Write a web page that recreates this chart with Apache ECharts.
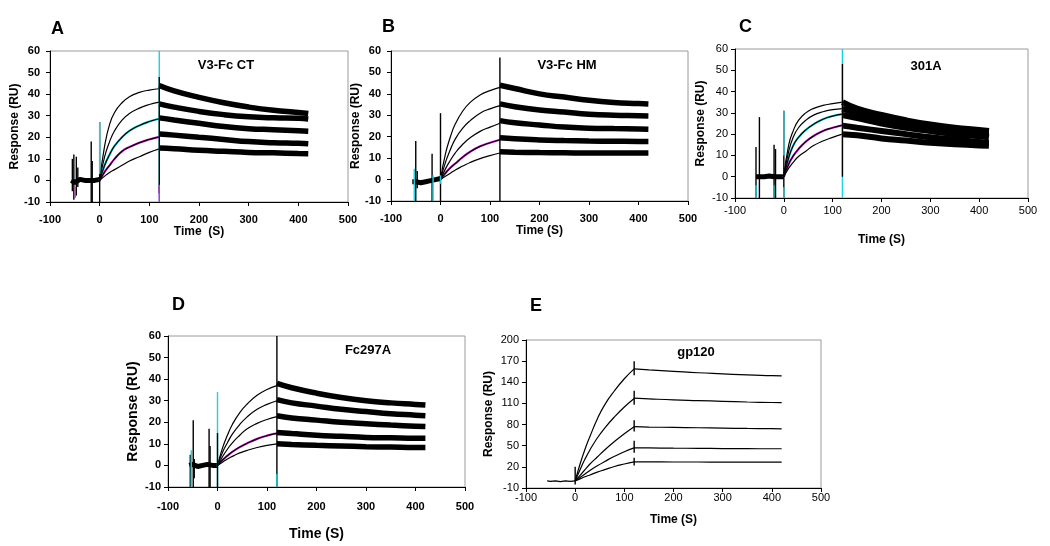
<!doctype html>
<html>
<head>
    <meta charset="utf-8">
    <title>SPR sensorgrams</title>
    <script src="https://cdn.jsdelivr.net/npm/echarts@6/dist/echarts.min.js"></script>
    <style>
        html, body { margin: 0; padding: 0; background: #fff; }
        #main { width: 1050px; height: 546px; }
    </style>
</head>
<body>
<div id="main"></div>
<script>
    // time points (s)
    var assocT = [0, 10, 20, 30, 45, 60, 80, 100, 120];
    var dissT = [120, 150, 200, 250, 300, 350, 400, 420];
    var baseT = [-57, -50, -40, -30, -20, -10, 0];

    // A  V3-Fc CT
    var assocA = [
        [0, 16, 26, 31.5, 36, 38.8, 40.8, 41.9, 42.5],
        [0, 11, 18, 23, 28, 31, 33.5, 35.2, 36.3],
        [0, 7, 12, 16, 20, 23, 25.5, 27.3, 28.6],
        [0, 4, 7, 10, 13.5, 15.5, 17.5, 19, 20.2],
        [0, 2, 3.7, 5, 7, 9, 11, 13, 14.6]
    ];
    var dissA = [
        [44, 41.5, 38.5, 36, 34, 32.5, 31.5, 31],
        [35.5, 34, 32, 30.5, 29.5, 29, 28.8, 28.5],
        [29, 28, 26.5, 25, 24, 23.5, 23, 22.8],
        [21.5, 21, 20, 19, 18, 17.5, 17.2, 17],
        [15, 14.7, 14, 13.5, 13, 12.8, 12.5, 12.4]
    ];
    var baseA = [0, -1, 0.5, 0, 0, 0, 0.5];
    // [t, low, high, colour 0 black / 1 cyan / 2 magenta]
    var spikesA = [[-55, -5, 10, 0], [-52, -9, 12, 0], [-47, -7, 11, 0], [-44, -3, 6, 0],
        [-49, -8, -3, 2], [-17, -10, 18, 0], [-15, -10, 9, 0], [0, -10, 27, 0], [0, 3, 27, 1],
        [120, -10, 60, 1], [120, -6, 48, 0], [120, -10, -2, 2]];

    // B  V3-Fc HM
    var assocB = [
        [0, 12, 20, 26, 32, 36, 39.5, 41.5, 43],
        [0, 8, 14, 19, 24, 27.5, 31, 33, 34.5],
        [0, 5, 9, 12.5, 16.5, 19.5, 22.5, 24.5, 26.3],
        [0, 3, 5.5, 7.5, 10.5, 13, 15.5, 17.2, 18.6],
        [0, 1.5, 3, 4.5, 6.3, 8, 9.8, 11.2, 12.4]
    ];
    var dissB = [
        [44, 42.5, 40, 38.5, 37, 36, 35.5, 35.3],
        [35.3, 34, 32.5, 31.5, 30.5, 30, 29.8, 29.7],
        [27.5, 26.5, 25.5, 24.5, 24, 23.8, 23.6, 23.5],
        [19.5, 19, 18.5, 18.2, 18, 17.9, 17.8, 17.8],
        [13, 12.8, 12.6, 12.5, 12.4, 12.4, 12.4, 12.4]
    ];
    var baseB = [-1, -1, -1.5, -1, -0.5, 0, 0.5];
    var spikesB = [[-53, -10, 5, 1], [-50, -10, 18, 0], [-47, -4, 4, 0], [-17, -10, 12, 0],
        [-15, -10, 2, 1], [0, -10, 31, 0], [0, -2, 2, 1], [120, -10, 57, 0]];

    // C  301A
    var assocC = [
        [0, 15, 22, 26.5, 30, 32, 33.5, 34.3, 35],
        [0, 12, 19, 23, 26.5, 28.8, 30.5, 31.5, 32],
        [0, 9, 15, 18.5, 22, 24.5, 27, 28.5, 29.4],
        [0, 6, 10, 13, 16.5, 19, 21.5, 23, 24.2],
        [0, 4, 7, 9.5, 12, 14.5, 16.8, 18.5, 20]
    ];
    var dissC = [
        [35, 32, 29, 26.5, 24.5, 23, 22, 21.5],
        [32, 30, 27.5, 25, 23, 21.5, 20.3, 20],
        [29, 27.5, 25, 23, 21.5, 20, 19, 18.5],
        [24, 23, 21.5, 20, 18.5, 17.5, 16.3, 16],
        [20, 19.5, 18, 17, 16, 15.3, 14.7, 14.5]
    ];
    var baseC = [0, 0, 0, 0.3, 0, 0, 0];
    var spikesC = [[-57, -10, 14, 0], [-57, -10, -4, 1], [-50, -10, 28, 0], [-20, -10, 15, 0],
        [-20, -10, -4, 1], [-17, -10, 13, 0], [0, -10, 31, 0], [0, 10, 31, 1], [0, -10, -5, 1],
        [120, -10, 60, 1], [120, 0, 53, 0]];

    // D  Fc297A
    var assocD = [
        [0, 8, 14, 19, 24.5, 28.5, 32.5, 35.2, 37],
        [0, 6, 10.5, 14.5, 19, 22.5, 26, 28.3, 30],
        [0, 4, 7.5, 10.5, 14, 17, 19.5, 21.3, 22.6],
        [0, 2.5, 4.5, 6.3, 8.5, 10.3, 12.3, 13.8, 14.9],
        [0, 1.5, 3, 4.2, 5.8, 7, 8.3, 9.3, 10]
    ];
    var dissD = [
        [38, 36, 33.5, 31.5, 30, 29, 28.3, 28],
        [30.5, 29, 27.5, 26, 25, 24, 23.3, 23],
        [23, 22, 21, 20, 19.3, 18.7, 18.2, 18],
        [15.3, 14.8, 14, 13.5, 13, 12.8, 12.6, 12.6],
        [10, 9.7, 9.3, 9, 8.7, 8.5, 8.3, 8.3]
    ];
    var baseD = [0, 0.5, -0.5, 0, 0.5, 0, 0];
    var spikesD = [[-55, -10, 5, 0], [-53, -10, 7, 1], [-49, -10, 21, 0], [-47, -6, 3, 0],
        [-17, -10, 17, 0], [-15, -10, 9, 0], [0, -10, 34, 1], [0, -10, 15, 0],
        [120, -10, 60, 0], [120, -10, -4, 1]];

    // E  gp120
    var assocE = [
        [0, 24, 45, 63, 88, 108, 128, 145, 159],
        [0, 16, 31, 44, 61, 75, 91, 105, 117],
        [0, 8, 16, 24, 34, 44, 56, 67, 77],
        [0, 5, 10, 15, 21.5, 27.5, 35, 41.5, 47],
        [0, 3, 6, 8.5, 12.5, 16, 20.5, 24, 27]
    ];
    var dissE = [
        [159, 157.5, 155.5, 153.5, 152, 150.5, 149.5, 149],
        [117.5, 116.5, 115, 114, 113, 112, 111.3, 111],
        [77, 76.5, 76, 75.5, 75, 74.5, 74.2, 74],
        [47, 46.8, 46.5, 46.3, 46, 45.8, 45.7, 45.7],
        [27, 27, 26.9, 26.9, 26.8, 26.8, 26.8, 26.8]
    ];
    var baseE = [0, -0.5, 0, -1, 0, -0.5, 0];
    var spikesE = [[0, -5, 20, 0], [120, 150, 170, 0], [120, 108, 128, 0], [120, 70, 86, 0],
        [120, 40, 57, 0], [120, 22, 33, 0]];

    var spikeColors = ['#000000', '#19d3e0', '#e01ee0'];

    var panels = [
        {key: 'A', title: 'V3-Fc CT', grid: {left: 50, top: 51, width: 298, height: 151}, bold: true,
            y: [-10, 60, 10], assoc: assocA, diss: dissA, base: baseA, spikes: spikesA, band: 5.5,
            tint: {2: '#19d3e0', 3: '#e01ee0'}, letter: [57, 30], label: [226, 65],
            yGap: 24, xGap: 24, xm: 12, ym: 10},
        {key: 'B', title: 'V3-Fc HM', grid: {left: 391, top: 51, width: 297, height: 150}, bold: true,
            y: [-10, 60, 10], assoc: assocB, diss: dissB, base: baseB, spikes: spikesB, band: 5.5,
            tint: {3: '#e01ee0'}, letter: [388, 28], label: [567, 65],
            yGap: 24, xGap: 24, xm: 12, ym: 10},
        {key: 'C', title: '301A', grid: {left: 735, top: 49, width: 293, height: 149}, bold: false,
            y: [-10, 60, 10], assoc: assocC, diss: dissC, base: baseC, spikes: spikesC, band: 6,
            tint: {2: '#19d3e0', 3: '#e01ee0'}, letter: [745, 28], label: [926, 66],
            yGap: 28, xGap: 36, xm: 7, ym: 7},
        {key: 'D', title: 'Fc297A', grid: {left: 168, top: 336, width: 297, height: 151}, bold: true,
            y: [-10, 60, 10], assoc: assocD, diss: dissD, base: baseD, spikes: spikesD, band: 5.5,
            tint: {3: '#e01ee0'}, letter: [178, 306], label: [368, 350],
            yGap: 28, xGap: 40, xm: 14, ym: 7},
        {key: 'E', title: 'gp120', grid: {left: 526, top: 340, width: 295, height: 148}, bold: false,
            y: [-10, 200, 30], assoc: assocE, diss: dissE, base: baseE, spikes: spikesE, band: 1.2,
            tint: {}, letter: [536, 307], label: [696, 352],
            yGap: 31, xGap: 26, xm: 4, ym: 7}
    ];

    var grids = [], xAxes = [], yAxes = [], series = [], graphics = [];

    function pairs(ts, vs) {
        return ts.map(function (t, k) { return [t, vs[k]]; });
    }

    panels.forEach(function (p, i) {
        var fw = p.bold ? 'bold' : 'normal';
        var nameSize = p.key === 'D' ? 14 : 12;
        grids.push({
            left: p.grid.left, top: p.grid.top, width: p.grid.width, height: p.grid.height,
            show: true, borderColor: '#9a9a9a', borderWidth: 1
        });
        xAxes.push({
            gridIndex: i, type: 'value', min: -100, max: 500, interval: 100,
            name: p.key === 'A' ? 'Time  (S)' : 'Time (S)', nameLocation: 'middle', nameGap: p.xGap,
            nameTextStyle: {fontFamily: 'Liberation Sans', fontWeight: 'bold', fontSize: nameSize, color: '#000'},
            axisLine: {onZero: false, lineStyle: {color: '#000', width: 1}},
            axisTick: {show: true, length: 4, lineStyle: {color: '#000'}},
            axisLabel: {fontFamily: 'Liberation Sans', fontWeight: fw, fontSize: 11, color: '#000', margin: p.xm},
            splitLine: {show: false}
        });
        yAxes.push({
            gridIndex: i, type: 'value', min: p.y[0], max: p.y[1], interval: p.y[2],
            name: 'Response (RU)', nameLocation: 'middle', nameGap: p.yGap,
            nameTextStyle: {fontFamily: 'Liberation Sans', fontWeight: 'bold', fontSize: nameSize, color: '#000'},
            axisLine: {onZero: false, lineStyle: {color: '#000', width: 1}},
            axisTick: {show: true, length: 4, lineStyle: {color: '#000'}},
            axisLabel: {fontFamily: 'Liberation Sans', fontWeight: fw, fontSize: 11, color: '#000', margin: p.ym},
            splitLine: {show: false}
        });

        // baseline before injection
        series.push({
            type: 'line', xAxisIndex: i, yAxisIndex: i, data: pairs(baseT, p.base),
            showSymbol: false, lineStyle: {color: '#000', width: p.key === 'E' ? 1.2 : 5}, z: 2
        });
        // association and dissociation for each concentration
        p.assoc.forEach(function (vals, c) {
            if (p.tint[c]) {
                series.push({
                    type: 'line', xAxisIndex: i, yAxisIndex: i, data: pairs(assocT, vals), smooth: true,
                    showSymbol: false, lineStyle: {color: p.tint[c], width: 2.2}, z: 2
                });
            }
            series.push({
                type: 'line', xAxisIndex: i, yAxisIndex: i, data: pairs(assocT, vals), smooth: true,
                showSymbol: false, lineStyle: {color: '#000', width: 1.2}, z: 3
            });
            series.push({
                type: 'line', xAxisIndex: i, yAxisIndex: i, data: pairs(dissT, p.diss[c]), smooth: true,
                showSymbol: false, lineStyle: {color: '#000', width: p.band}, z: 3
            });
        });
        // injection spikes and markers
        series.push({
            type: 'custom', xAxisIndex: i, yAxisIndex: i, data: p.spikes, z: 5,
            encode: {x: 0, y: [1, 2]},
            renderItem: function (params, api) {
                var a = api.coord([api.value(0), api.value(1)]);
                var b = api.coord([api.value(0), api.value(2)]);
                return {
                    type: 'line',
                    shape: {x1: a[0], y1: a[1], x2: b[0], y2: b[1]},
                    style: {stroke: spikeColors[api.value(3)], lineWidth: 1.4}
                };
            }
        });

        graphics.push({
            type: 'text', left: p.letter[0] - 6, top: p.letter[1] - 10,
            style: {text: p.key, font: 'bold 18px "Liberation Sans"', fill: '#000'}
        });
        graphics.push({
            type: 'text', x: p.label[0], y: p.label[1],
            style: {text: p.title, font: 'bold 13px "Liberation Sans"', fill: '#000',
                textAlign: 'center', textVerticalAlign: 'middle'}
        });
    });

    var myChart = echarts.init(document.getElementById('main'));
    myChart.setOption({
        animation: false,
        grid: grids,
        xAxis: xAxes,
        yAxis: yAxes,
        series: series,
        graphic: graphics
    });
</script>
</body>
</html>
